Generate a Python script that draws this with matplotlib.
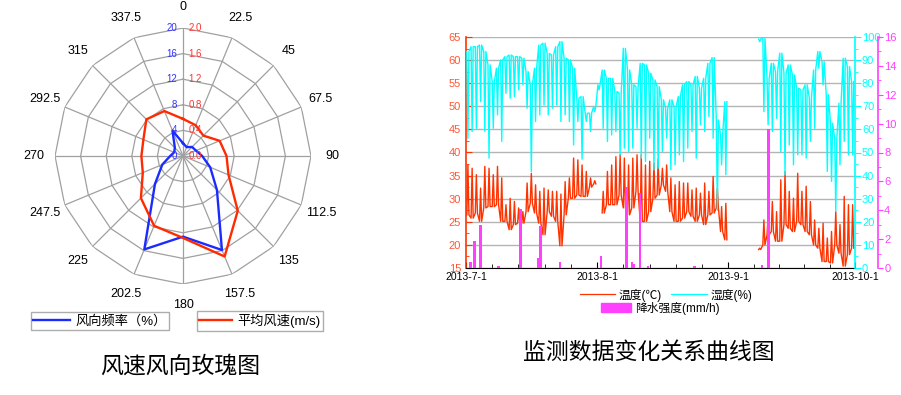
import numpy as np
import matplotlib
matplotlib.use("Agg")
import matplotlib.pyplot as plt
from matplotlib.lines import Line2D
from matplotlib.patches import Patch

plt.rcParams['font.family'] = ['Liberation Sans', 'Noto Sans CJK SC', 'DejaVu Sans']

nan = np.nan

# ---- wind rose (16 directions) ----
directions = [0, 22.5, 45, 67.5, 90, 112.5, 135, 157.5,
              180, 202.5, 225, 247.5, 270, 292.5, 315, 337.5]
dir_labels = ['0', '22.5', '45', '67.5', '90', '112.5', '135', '157.5',
              '180', '202.5', '225', '247.5', '270', '292.5', '315', '337.5']
freq = [2.0, 1.5, 2.0, 2.2, 3.0, 4.6, 7.5, 15.9,
        12.6, 15.8, 6.2, 3.5, 2.0, 1.5, 1.8, 4.3]
speed = [0.58, 0.52, 0.45, 0.62, 0.68, 0.77, 1.21, 1.70,
         1.28, 1.18, 0.93, 0.68, 0.65, 0.67, 0.81, 0.76]
freq_ticks = [0, 4, 8, 12, 16, 20]
speed_ticks = [0.0, 0.4, 0.8, 1.2, 1.6, 2.0]

# ---- monitoring data, daily extremes from 2013-7-1 (day 0) ----
t_max = [37.3, 36.6, 35.2, 32.3, 37.0, 36.6, 35.2, 37.0, 34.5, 28.7,
         30.1, 29.4, 28.0, 27.2, 33.4, 35.5, 33.0, 31.6, 32.3, 31.9,
         31.6, 31.6, 31.0, 33.7, 34.5, 38.8, 38.4, 37.3, 35.9, 34.5,
         33.9, nan, 31.6, 35.9, 37.3, 39.1, 39.5, 38.8, 37.3, 38.8,
         39.5, 39.5, 37.3, 38.1, 37.7, 38.5, 36.6, 37.3, 34.5, 33.0,
         33.7, 33.4, 33.4, 31.9, 32.3, 31.2, 33.4, 31.6, 34.8, 32.3,
         28.3, 29.0, nan, nan, nan, nan, nan, nan, nan,
         19.3, 25.4, 26.2, 29.4, 27.2, 34.1, 35.9, 31.6, 30.1, 35.5,
         31.6, 32.7, 29.4, 25.4, 23.6, 24.7, 21.5, 22.9, 27.2, 24.4,
         30.5, 28.7, 28.7]
t_min = [26.5, 25.8, 26.9, 25.1, 28.0, 28.3, 28.3, 28.7, 25.1, 25.1,
         23.3, 24.4, 24.7, 24.7, 27.2, 29.0, 26.9, 24.7, 22.2, 27.2,
         26.2, 25.1, 19.8, 26.5, 30.1, 30.1, 30.8, 30.5, 30.5, 32.5,
         33.2, nan, 26.9, 28.7, 28.7, 28.7, 30.8, 28.0, 26.5, 28.0,
         31.6, 25.1, 25.1, 27.2, 30.1, 30.8, 33.0, 31.6, 27.2, 25.1,
         25.1, 25.8, 27.2, 26.2, 25.1, 26.5, 24.4, 26.5, 26.9, 28.0,
         22.9, 21.1, nan, nan, nan, nan, nan, nan, nan,
         19.0, 20.0, 22.2, 22.9, 20.8, 20.8, 24.4, 23.6, 22.9, 25.1,
         24.4, 22.9, 22.2, 20.0, 19.3, 16.4, 16.4, 16.1, 20.0, 18.2,
         15.4, 17.9, 19.3]
h_max = [93.7, 95.8, 95.8, 96.5, 93.7, 87.9, 80.7, 86.5, 90.1, 91.5,
         92.2, 91.5, 91.5, 90.8, 85.0, 79.3, 86.5, 96.5, 97.3, 92.9,
         92.2, 95.8, 98.0, 90.8, 90.1, 86.5, 73.5, 74.2, 67.0, 67.0,
         69.9, 79.3, 85.7, 82.1, 82.1, 76.4, 75.6, 95.1, 85.7, 79.3,
         78.5, 88.6, 87.9, 84.3, 81.4, 78.5, 72.8, 69.2, 72.8, 69.9,
         74.2, 79.3, 80.7, 79.3, 82.9, 77.8, 82.1, 88.6, 91.1, 64.1,
         57.6, 72.0, nan, nan, nan, nan, nan, nan, nan,
         99.1, 99.4, 82.1, 88.6, 85.0, 93.0, 84.3, 87.9, 83.6, 77.8,
         77.1, 79.3, 73.5, 85.7, 93.7, 89.3, 75.0, 62.7, 56.2, 71.3,
         90.8, 87.2, 80.7]
h_min = [56.2, 59.1, 60.5, 72.0, 59.1, 47.6, 60.5, 66.3, 54.8, 75.6,
         73.5, 74.2, 77.1, 79.3, 69.2, 41.8, 63.4, 66.3, 70.6, 66.3,
         69.2, 70.6, 63.4, 66.3, 63.4, 53.3, 63.4, 47.1, 63.4, 59.1,
         67.7, 77.1, 60.5, 54.8, 57.6, 59.1, 49.0, 51.9, 50.4, 51.9,
         60.5, 47.6, 46.1, 56.2, 42.5, 43.2, 50.4, 56.2, 42.5, 44.7,
         49.0, 46.1, 51.9, 59.1, 47.6, 62.0, 59.1, 65.6, 56.2, 25.0,
         44.7, 40.4, nan, nan, nan, nan, nan, nan, nan,
         98.0, 67.7, 62.0, 59.1, 64.8, 50.4, 40.4, 53.3, 44.7, 49.0,
         49.0, 47.6, 54.8, 60.5, 86.5, 79.3, 41.8, 37.5, 24.5, 44.7,
         54.8, 49.0, 49.0]
rain_day = [1.1, 2.0, 3.4, 7.7, 12.9, 17.2, 17.6, 22.2, 31.9,
            38.0, 39.3, 39.7, 41.2, 43.0, 54.1, 70.0, 71.5]
rain_val = [0.45, 1.85, 2.95, 0.15, 4.1, 0.7, 2.9, 0.45, 0.8,
            5.6, 0.45, 0.3, 5.2, 0.15, 0.15, 0.2, 9.65]
month_pos = [0, 31, 62, 92]
month_labels = ['2013-7-1', '2013-8-1', '2013-9-1', '2013-10-1']


def daily_cycle(low, high, low_first):
    # one narrow swing per day: base -> peak -> base
    xs, ys = [], []
    for d, (lo, hi) in enumerate(zip(low, high)):
        if np.isnan(lo):
            xs.append(d + 0.5)
            ys.append(nan)
            continue
        base, peak = (lo, hi) if low_first else (hi, lo)
        xs += [d + 0.2, d + 0.45, d + 0.7]
        ys += [base, peak, base]
    return xs, ys


W, H = 901, 395
fig = plt.figure(figsize=(W / 100, H / 100), dpi=100)

RED = '#FF2A00'
BLUE = '#1A2BFF'
GRID = '#A0A0A0'

# ---------------- wind rose ----------------
cx, cy, R = 183, 156, 128
rect = [(cx - R) / W, 1 - (cy + R) / H, 2 * R / W, 2 * R / H]
axp = fig.add_axes(rect, projection='polar')
axr = fig.add_axes(rect, projection='polar', frameon=False)
th = np.deg2rad(directions)
for a in (axp, axr):
    a.set_theta_zero_location('N')
    a.set_theta_direction(-1)
    a.grid(False)
    a.set_xticks([])
    a.set_yticks([])
    a.spines['polar'].set_visible(False)
    a.patch.set_alpha(0)
axp.set_ylim(0, 20)
axr.set_ylim(0, 2.0)

ring_th = np.append(th, th[0])
for r in freq_ticks[1:]:
    axp.plot(ring_th, [r] * len(ring_th), color=GRID, lw=0.9, zorder=1)
for t in th:
    axp.plot([t, t], [0, 20], color=GRID, lw=0.9, zorder=1)

axp.plot(ring_th, freq + freq[:1], color=BLUE, lw=1.7, zorder=3)
axr.plot(ring_th, speed + speed[:1], color=RED, lw=1.7, zorder=3)

for t, lab in zip(th, dir_labels):
    axp.text(t, 23.3, lab, ha='center', va='center', fontsize=9)
for v in freq_ticks:
    axp.annotate(str(v), xy=(0, v), xytext=(-4, 0), textcoords='offset points',
                 ha='right', va='center', fontsize=7, color='#3333FF')
for v in speed_ticks:
    axr.annotate('%.1f' % v, xy=(0, v), xytext=(4, 0), textcoords='offset points',
                 ha='left', va='center', fontsize=7, color='#FF3333')

lg1 = fig.legend([Line2D([], [], color=BLUE, lw=1.7)], ['风向频率（%）'],
                 loc='center', bbox_to_anchor=(100 / W, 1 - 321 / H),
                 fontsize=9.5, frameon=True, fancybox=False, handlelength=2.8,
                 borderpad=0.2, handletextpad=0.4, borderaxespad=0)
lg1.get_frame().set_edgecolor('#999999')
lg2 = fig.legend([Line2D([], [], color=RED, lw=1.7)], ['平均风速(m/s)'],
                 loc='center', bbox_to_anchor=(260 / W, 1 - 321 / H),
                 fontsize=9.5, frameon=True, fancybox=False, handlelength=2.5,
                 borderpad=0.2, handletextpad=0.4, borderaxespad=0)
lg2.get_frame().set_edgecolor('#999999')

fig.text(180 / W, 1 - 366 / H, '风速风向玫瑰图', ha='center', va='center',
         fontsize=16.5, family=['Noto Sans CJK SC'])

# ---------------- monitoring curves ----------------
x0, x1, y0, y1 = 466, 855, 37, 268
ax = fig.add_axes([x0 / W, 1 - y1 / H, (x1 - x0) / W, (y1 - y0) / H])
ax2 = ax.twinx()
ax3 = ax.twinx()

TCOL = '#FF3300'
HCOL = '#00FFFF'
PCOL = '#FF40FF'

tx, ty = daily_cycle(t_min, t_max, True)
hx, hy = daily_cycle(h_min, h_max, False)
ax.plot(tx, ty, color=TCOL, lw=1.0)
ax2.plot(hx, hy, color=HCOL, lw=1.0)
ax3.bar(rain_day, rain_val, width=0.6, color=PCOL, linewidth=0)

ax.set_xlim(0, 92)
ax.set_ylim(15, 65)
ax2.set_ylim(0, 100)
ax3.set_ylim(0, 16)

ax.set_yticks(np.arange(15, 66, 5))
ax.set_yticks(np.arange(15, 65, 2.5), minor=True)
ax.yaxis.grid(True, color='#B4B4B4', lw=1)
ax.set_axisbelow(True)
ax.set_xticks(month_pos)
ax.set_xticklabels(month_labels)
minor_x = []
for a, b in zip(month_pos[:-1], month_pos[1:]):
    minor_x += list(np.linspace(a, b, 6)[1:-1])
ax.set_xticks(minor_x, minor=True)
ax.tick_params(axis='x', which='both', direction='in', labelsize=7.5, pad=3)
ax.tick_params(axis='x', which='major', length=4)
ax.tick_params(axis='x', which='minor', length=3)
ax.tick_params(axis='y', which='both', direction='in', colors=TCOL,
               labelcolor='#FF5533', labelsize=8)
ax.tick_params(axis='y', which='major', length=4)
ax.tick_params(axis='y', which='minor', length=2.5)
ax.spines['left'].set_color(TCOL)
ax.spines['left'].set_linewidth(1.2)
ax.spines['top'].set_visible(False)
ax.spines['right'].set_visible(False)

ax2.set_yticks(np.arange(0, 101, 10))
ax2.set_yticks(np.arange(0, 100, 5), minor=True)
ax2.tick_params(axis='y', which='both', direction='out', colors=HCOL,
                labelsize=8, pad=1)
ax2.tick_params(axis='y', which='major', length=4)
ax2.tick_params(axis='y', which='minor', length=2.5)
for s in ('left', 'top', 'bottom'):
    ax2.spines[s].set_visible(False)
ax2.spines['right'].set_color(HCOL)
ax2.spines['right'].set_linewidth(1.2)

ax3.set_yticks(np.arange(0, 17, 2))
ax3.set_yticks(np.arange(0, 16, 1), minor=True)
ax3.tick_params(axis='y', which='both', direction='out', colors=PCOL,
                labelsize=8, pad=1)
ax3.tick_params(axis='y', which='major', length=3.5)
ax3.tick_params(axis='y', which='minor', length=2)
for s in ('left', 'top', 'bottom'):
    ax3.spines[s].set_visible(False)
ax3.spines['right'].set_position(('outward', 16.5))
ax3.spines['right'].set_color(PCOL)
ax3.spines['right'].set_linewidth(1.2)

fig.legend([Line2D([], [], color=TCOL, lw=0.9), Line2D([], [], color=HCOL, lw=0.9)],
           ['温度(℃)', '湿度(%)'], loc='center', ncol=2,
           bbox_to_anchor=(666 / W, 1 - 295 / H), fontsize=8.5, frameon=False,
           handlelength=3.0, handletextpad=0.3, columnspacing=0.8,
           borderpad=0, borderaxespad=0)
fig.legend([Patch(color=PCOL)], ['降水强度(mm/h)'], loc='center',
           bbox_to_anchor=(660 / W, 1 - 308 / H), fontsize=8.5, frameon=False,
           handlelength=2.6, handleheight=0.9, handletextpad=0.3,
           borderpad=0, borderaxespad=0)

fig.text(649 / W, 1 - 352 / H, '监测数据变化关系曲线图', ha='center', va='center',
         fontsize=16.5, family=['Noto Sans CJK SC'])

fig.savefig('out.png', dpi=100)
